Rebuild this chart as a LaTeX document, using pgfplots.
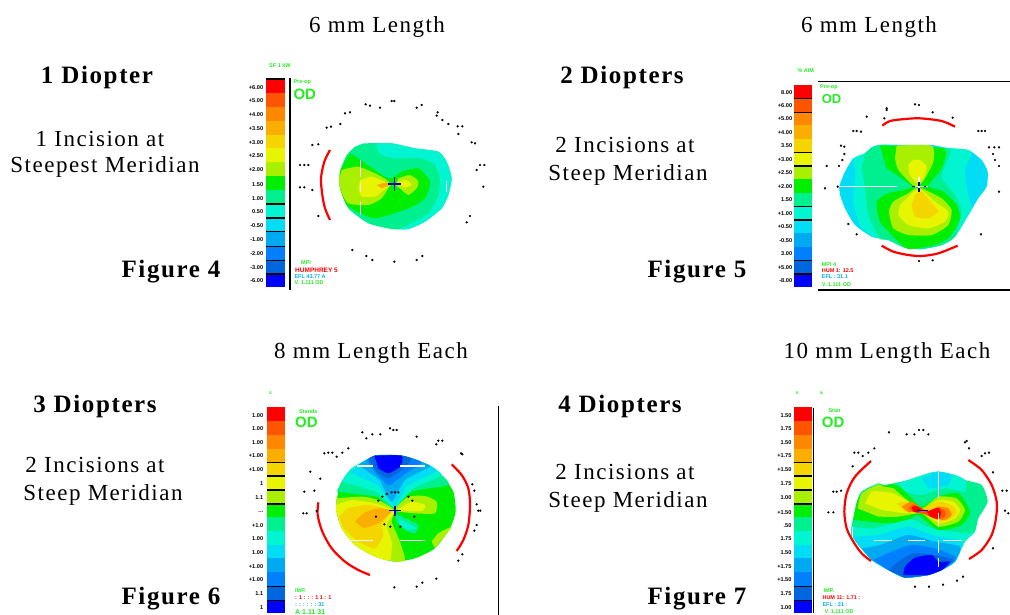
\documentclass[border=0pt]{standalone}
\usepackage{pgfplots}
\pgfplotsset{compat=1.18}
\usepackage{fontspec}
\setmainfont{Liberation Serif}[LetterSpace=6.5]
\setsansfont{Liberation Sans}
\definecolor{c01}{HTML}{FF0000}
\definecolor{c02}{HTML}{FF5500}
\definecolor{c03}{HTML}{FF8800}
\definecolor{c04}{HTML}{FAAE00}
\definecolor{c05}{HTML}{F5D500}
\definecolor{c06}{HTML}{E8F500}
\definecolor{c07}{HTML}{A8F000}
\definecolor{c08}{HTML}{00EE00}
\definecolor{c09}{HTML}{00F090}
\definecolor{c10}{HTML}{00F5D0}
\definecolor{c11}{HTML}{00DDF5}
\definecolor{c12}{HTML}{00AAF0}
\definecolor{c13}{HTML}{0080FF}
\definecolor{c14}{HTML}{0066DD}
\definecolor{c15}{HTML}{0000FF}
\definecolor{lg}{HTML}{22EE22}
\pgfplotsset{mapax/.style={scale only axis,hide axis,y dir=reverse,clip=false,no markers,anchor=north west,xmin=0,ymin=0}}
\newcommand\reg[2]{\addplot[fill=#1,draw=none,smooth,tension=0.35] coordinates {#2} --cycle;}
\newcommand\s[3]{\addplot[fill=#1,draw=none] coordinates {(\xa,#2)(\xb,#2)(\xb,#3)(\xa,#3)} --cycle;}
\newcommand\bl[1]{\addplot[black,line width=1.1pt] coordinates {(\xa,#1)(\xb,#1)};}
\newcommand\arc[1]{\addplot[red,line width=2.2pt,smooth] coordinates {#1};}
\newcommand\wh[1]{\addplot[white,line width=1.4pt] coordinates {#1};}
\newcommand\mdots[1]{\addplot[only marks,mark=square*,mark size=0.9pt,black] coordinates {#1};}
\newcommand\blk[1]{\addplot[black,line width=1.2pt] coordinates {#1};}
\newcommand\blu[1]{\addplot[blue!80!black,line width=1.3pt] coordinates {#1};}
\newcommand\lb[3]{\node[anchor=east,inner sep=0pt,font=\fontsize{5.6}{6}\selectfont\sffamily\bfseries] at (axis cs:#1,#2) {#3};}
\newcommand\txt[5]{\node[anchor=west,inner sep=0pt,text=#1,font=\fontsize{#4}{#4}\selectfont\sffamily\bfseries] at (axis cs:#2,#3) {#5};}
\newcommand\T[3]{\node[inner sep=0pt,yshift=-2pt,font=\fontsize{23}{24}\selectfont] at (#1pt,-#2pt) {#3};}
\newcommand\B[3]{\node[inner sep=0pt,yshift=-2pt,font=\fontsize{25}{26}\selectfont\bfseries] at (#1pt,-#2pt) {#3};}
\begin{document}
\begin{tikzpicture}
\path[use as bounding box] (0pt,0pt) rectangle (1010pt,-614pt);
\T{377}{25}{6 mm Length}
\T{869}{25}{6 mm Length}
\T{371}{351}{8 mm Length Each}
\T{887}{351}{10 mm Length Each}
\B{97}{75}{1 Diopter}
\B{622}{75}{2 Diopters}
\B{95}{404}{3 Diopters}
\B{620}{404}{4 Diopters}
\T{100}{137}{1 Incision at}
\T{105}{165}{Steepest Meridian}
\T{625}{143}{2 Incisions at}
\T{628}{173}{Steep Meridian}
\T{95}{463}{2 Incisions at}
\T{103}{493}{Steep Meridian}
\T{625}{470}{2 Incisions at}
\T{628}{500}{Steep Meridian}
\B{171}{270}{Figure 4}
\B{697}{270}{Figure 5}
\B{171}{597}{Figure 6}
\B{697}{597}{Figure 7}
% ---------- Map 1
\begin{axis}[mapax,at={(235pt,-55pt)},width=265pt,height=240pt,xmax=795,ymax=720]
\def\xa{93}\def\xb{150}
\s{c01}{72}{114}\s{c02}{114}{155}\s{c03}{155}{197}\s{c04}{197}{239}\s{c05}{239}{280}
\s{c06}{280}{322}\s{c07}{322}{364}\s{c08}{364}{405}\s{c09}{405}{447}\s{c10}{447}{489}
\s{c11}{489}{530}\s{c12}{530}{572}\s{c13}{572}{614}\s{c14}{614}{655}\s{c15}{655}{697}
\bl{72}\bl{447}\bl{489}\bl{530}\bl{575}\bl{617}\bl{657}
\blk{(165,68)(165,705)}
\reg{c09}{(385,265)(470,265)(540,280)(610,290)(635,320)(650,370)(640,420)(620,460)(570,500)(520,522)(470,522)(400,505)(340,460)(315,400)(315,350)(335,300)(360,275)}
\reg{c10}{(425,265)(470,265)(540,280)(610,290)(635,320)(650,370)(640,420)(620,460)(570,500)(520,522)(490,522)(520,510)(580,475)(610,420)(615,370)(600,330)(560,310)(480,310)(440,300)(425,280)}
\reg{c08}{(345,295)(370,310)(460,370)(500,350)(550,340)(585,380)(570,430)(520,460)(420,490)(340,455)(315,400)(315,350)(330,320)}
\reg{c07}{(320,345)(370,335)(430,360)(465,385)(440,430)(400,450)(340,445)(318,410)(312,375)}
\reg{c07}{(490,370)(525,360)(550,378)(545,400)(520,420)(495,400)(480,390)}
\reg{c06}{(375,375)(410,365)(450,380)(470,388)(440,410)(420,425)(380,425)(370,400)}
\reg{c06}{(490,380)(515,375)(530,390)(510,397)(490,392)}
\reg{c04}{(425,390)(455,382)(465,390)(440,400)}
\wh{(376,315)(376,365)}\wh{(376,380)(376,410)}\wh{(376,440)(376,480)}\wh{(635,378)(635,412)}
\blu{(458,387)(498,387)}\blu{(478,367)(478,407)}
\arc{(285,285)(268,320)(258,370)(262,420)(270,460)(285,495)}
\mdots{(392,148)(405,152)(435,158)(470,138)(478,138)(545,158)(560,150)(608,172)(605,182)(622,195)(640,207)(668,214)(682,214)(670,237)(710,262)(720,265)(735,330)(748,330)(725,345)(745,395)(232,405)(195,397)(208,397)(195,330)(208,330)(220,330)(232,270)(250,268)(275,218)(288,215)(316,207)(330,175)(345,172)(250,483)(705,483)(695,502)(352,585)(394,603)(412,615)(478,620)(545,615)(562,603)}
\lb{85}{97}{+6.00}\lb{85}{138}{+5.00}\lb{85}{180}{+4.00}\lb{85}{222}{+3.50}\lb{85}{262}{+3.00}
\lb{85}{303}{+2.50}\lb{85}{345}{+2.00}\lb{85}{388}{1.50}\lb{85}{430}{1.00}\lb{85}{470}{0.50}
\lb{85}{512}{-0.50}\lb{85}{553}{-1.00}\lb{85}{595}{-2.00}\lb{85}{637}{-3.00}\lb{85}{678}{-6.00}
\txt{lg}{102}{31}{5.5}{SF 1 kW}
\txt{lg}{175}{81}{5.5}{Pre-op}
\txt{lg}{175}{117}{15}{OD}
\txt{lg}{198}{624}{5.5}{MPI}
\txt{red}{180}{646}{6.5}{HUMPHREY 5}
\txt{cyan}{178}{666}{5.5}{EFL 43.77 A}
\txt{lg}{178}{684}{5.5}{V. 1.111 OD}
\end{axis}
% ---------- Map 2
\begin{axis}[mapax,at={(765pt,-55pt)},width=245pt,height=240pt,xmax=735,ymax=720]
\def\xa{86}\def\xb{140}
\s{c01}{90}{130}\s{c02}{130}{171}\s{c03}{171}{211}\s{c04}{211}{252}\s{c05}{252}{292}
\s{c06}{292}{333}\s{c07}{333}{373}\s{c08}{373}{414}\s{c09}{414}{454}\s{c10}{454}{495}
\s{c11}{495}{535}\s{c12}{535}{576}\s{c13}{576}{616}\s{c14}{616}{657}\s{c15}{657}{697}
\bl{130}\bl{172}\bl{292}\bl{333}\bl{455}\bl{495}\bl{617}\bl{657}
\blk{(158,80)(735,80)}\blk{(158,705)(735,705)}
\reg{c11}{(222,395)(240,350)(265,310)(300,295)(345,270)(400,270)(500,270)(560,282)(610,285)(650,315)(668,350)(665,395)(640,430)(610,480)(570,545)(530,570)(470,582)(420,578)(370,555)(320,545)(270,510)(240,460)(225,420)}
\reg{c10}{(265,310)(300,295)(345,270)(610,285)(600,340)(605,400)(620,460)(610,480)(570,545)(530,570)(470,582)(420,578)(370,555)(320,545)(285,510)(265,440)(272,360)}
\reg{c09}{(300,295)(345,270)(550,282)(540,330)(530,370)(570,420)(590,470)(570,545)(530,570)(470,582)(420,578)(370,555)(345,550)(310,480)(300,400)(290,340)}
\reg{c08}{(345,272)(535,280)(530,340)(490,392)(535,410)(575,450)(585,490)(555,545)(510,570)(430,582)(395,555)(345,500)(335,440)(370,415)(440,395)(365,340)}
\reg{c07}{(395,272)(500,272)(505,320)(480,370)(462,392)(445,392)(400,345)(390,310)}
\reg{c07}{(450,400)(470,400)(530,430)(560,465)(550,510)(500,540)(430,540)(385,520)(372,470)(385,440)(430,415)}
\reg{c06}{(430,330)(445,315)(465,315)(485,335)(480,360)(462,385)(450,380)(432,355)}
\reg{c06}{(445,410)(470,405)(510,440)(550,470)(540,500)(490,520)(430,510)(400,480)(405,450)}
\reg{c05}{(450,420)(470,410)(505,450)(520,470)(490,490)(450,485)(440,450)}
\wh{(222,395)(395,395)}\wh{(462,365)(462,410)}\wh{(440,395)(490,395)}
\blu{(462,380)(462,392)}\blu{(462,400)(462,410)}\blu{(476,395)(484,395)}\blu{(442,395)(450,395)}
\arc{(352,212)(375,198)(420,192)(465,190)(530,198)(570,215)}
\arc{(350,572)(385,590)(430,600)(470,603)(520,595)(578,572)}
\mdots{(365,160)(365,165)(450,148)(462,150)(503,172)(305,185)(358,190)(563,188)(265,228)(275,228)(288,230)(640,228)(650,228)(660,228)(228,272)(238,275)(238,297)(232,315)(222,333)(185,333)(672,277)(688,277)(702,277)(684,297)(690,315)(702,333)(180,400)(218,395)(702,410)(250,507)(275,538)(648,538)(462,618)(503,616)}
\lb{82}{112}{8.00}\lb{82}{151}{+6.00}\lb{82}{192}{+5.00}\lb{82}{232}{+4.00}\lb{82}{273}{3.50}
\lb{82}{313}{+3.00}\lb{82}{354}{+2.50}\lb{82}{394}{+2.00}\lb{82}{434}{1.50}\lb{82}{475}{+1.00}
\lb{82}{515}{+0.50}\lb{82}{556}{-0.50}\lb{82}{597}{3.00}\lb{82}{637}{+5.00}\lb{82}{678}{-8.00}
\txt{lg}{97}{46}{5.5}{\% AIM}
\txt{lg}{165}{98}{5.5}{Pre-op}
\txt{lg}{170}{132}{13}{OD}
\txt{lg}{170}{628}{5.5}{MPI 4}
\txt{red}{170}{648}{5.5}{HUM 1: 12.5}
\txt{cyan}{170}{666}{5.5}{EFL : 31.1}
\txt{lg}{170}{688}{5.5}{V. 1.111 OD}
\end{axis}
% ---------- Map 3
\begin{axis}[mapax,at={(235pt,-385pt)},width=265pt,height=229pt,xmax=795,ymax=687]
\def\xa{97}\def\xb{150}
\s{c01}{67}{108}\s{c02}{108}{149}\s{c03}{149}{191}\s{c04}{191}{232}\s{c05}{232}{273}
\s{c06}{273}{314}\s{c07}{314}{355}\s{c08}{355}{397}\s{c09}{397}{438}\s{c10}{438}{479}
\s{c11}{479}{520}\s{c12}{520}{561}\s{c13}{561}{603}\s{c14}{603}{644}\s{c15}{644}{685}
\bl{232}\bl{273}\bl{315}\bl{357}\bl{605}\bl{647}
\blk{(790,62)(790,690)}
\reg{c08}{(420,212)(500,212)(570,235)(620,270)(655,320)(662,380)(645,430)(600,490)(540,520)(480,530)(420,515)(360,480)(320,430)(303,370)(315,300)(350,250)}
\reg{c09}{(305,320)(340,260)(420,212)(500,212)(570,235)(620,270)(640,300)(530,320)(478,370)(430,335)}
\reg{c10}{(320,290)(350,250)(420,212)(500,212)(570,235)(620,270)(535,310)(478,365)(425,320)}
\reg{c11}{(345,262)(420,212)(500,212)(570,235)(605,258)(520,300)(478,360)(430,300)}
\reg{c12}{(370,240)(420,212)(500,212)(570,235)(585,245)(510,285)(470,350)(435,285)}
\reg{c13}{(395,225)(420,212)(500,212)(560,232)(505,270)(460,300)(415,255)}
\reg{c14}{(400,222)(420,212)(500,212)(530,222)(500,255)(460,280)(425,260)}
\reg{c15}{(418,212)(500,212)(495,245)(460,265)(430,250)}
\reg{c07}{(303,340)(380,335)(430,345)(478,375)(470,410)(495,470)(510,525)(480,530)(420,515)(360,480)(320,430)(303,370)}
\reg{c06}{(303,360)(350,345)(420,355)(478,378)(455,420)(470,470)(465,525)(420,515)(360,480)(320,430)(303,375)}
\reg{c05}{(312,395)(340,370)(400,360)(465,378)(440,420)(445,450)(420,490)(370,470)(325,430)}
\reg{c04}{(360,410)(385,385)(430,370)(470,378)(430,415)(385,430)}
\reg{c07}{(480,370)(520,335)(570,333)(605,350)(600,385)(540,385)(490,380)}
\reg{c06}{(490,372)(530,350)(570,360)(560,378)(500,378)}
\reg{c07}{(590,470)(610,445)(650,425)(640,440)(600,490)}
\reg{c09}{(478,385)(500,395)(550,420)(540,445)(510,435)(485,410)}
\reg{c10}{(490,400)(530,420)(545,430)(520,435)(495,420)}
\wh{(365,243)(415,243)}\wh{(495,243)(570,243)}\wh{(333,467)(413,467)}\wh{(495,467)(570,467)}
\blu{(463,377)(497,377)}\blu{(480,362)(480,392)}
\arc{(250,352)(248,390)(262,440)(290,490)(330,530)(370,555)(405,570)}
\arc{(650,238)(680,270)(700,310)(705,360)(700,420)(685,465)(665,498)}
\mdots{(430,347)(442,335)(455,327)(470,322)(480,322)(490,322)(520,335)(532,347)(538,395)(496,425)(466,425)(448,418)(423,395)(382,142)(394,160)(412,148)(436,148)(465,130)(475,135)(485,135)(545,155)(604,178)(610,167)(622,167)(678,205)(682,208)(268,205)(280,203)(292,203)(305,215)(322,203)(340,190)(226,260)(256,281)(208,320)(238,317)(205,385)(215,385)(245,378)(712,298)(718,317)(725,358)(730,377)(736,377)(725,420)(718,437)(682,508)(670,527)(478,607)(545,605)(562,593)(604,581)}
\lb{85}{92}{1.00}\lb{85}{131}{1.00}\lb{85}{172}{1.00}\lb{85}{213}{+1.00}\lb{85}{254}{+1.00}
\lb{85}{295}{1}\lb{85}{338}{1.1}\lb{85}{382}{...}\lb{85}{423}{+1.0}\lb{85}{462}{1.00}
\lb{85}{503}{1.00}\lb{85}{544}{+1.00}\lb{85}{584}{+1.00}\lb{85}{626}{1.1}\lb{85}{668}{1}
\txt{lg}{102}{25}{5}{s}
\txt{lg}{192}{79}{5.5}{Stands}
\txt{lg}{180}{112}{15}{OD}
\txt{lg}{180}{617}{5.5}{IMP.}
\txt{red}{180}{637}{5.5}{: 1 : : : 1 1 : 1}
\txt{cyan}{180}{658}{5.5}{: : : : : : 31}
\txt{lg}{180}{680}{7}{A 1.11 31}
\end{axis}
% ---------- Map 4
\begin{axis}[mapax,at={(765pt,-385pt)},width=245pt,height=229pt,xmax=735,ymax=687]
\def\xa{86}\def\xb{142}
\s{c01}{67}{108}\s{c02}{108}{149}\s{c03}{149}{191}\s{c04}{191}{232}\s{c05}{232}{273}
\s{c06}{273}{314}\s{c07}{314}{355}\s{c08}{355}{397}\s{c09}{397}{438}\s{c10}{438}{479}
\s{c11}{479}{520}\s{c12}{520}{561}\s{c13}{561}{603}\s{c14}{603}{644}\s{c15}{644}{685}
\bl{232}\bl{273}\bl{315}\bl{357}\bl{605}\bl{647}
\blk{(145,68)(145,685)}
\reg{c09}{(260,420)(285,325)(340,295)(355,300)(385,295)(430,285)(490,265)(520,260)(570,270)(600,285)(650,300)(668,350)(640,400)(630,440)(600,470)(570,530)(530,555)(490,570)(420,578)(370,555)(320,525)(280,480)(258,450)}
\reg{c10}{(400,295)(490,265)(520,260)(570,270)(600,285)(600,320)(540,310)(470,330)(420,320)}
\reg{c11}{(470,280)(520,260)(560,270)(550,300)(490,310)}
\reg{c10}{(258,425)(330,430)(430,400)(500,430)(600,445)(630,440)(600,470)(570,530)(530,555)(490,570)(420,578)(370,555)(320,525)(280,480)(258,450)}
\reg{c11}{(262,455)(340,450)(430,425)(500,450)(590,470)(570,530)(530,555)(490,570)(420,578)(370,555)(320,525)(280,480)}
\reg{c12}{(290,490)(345,480)(430,450)(510,470)(585,485)(570,530)(530,555)(490,570)(420,578)(370,555)(320,525)}
\reg{c13}{(325,525)(380,500)(440,480)(510,490)(570,515)(565,530)(530,555)(490,570)(420,578)(370,555)}
\reg{c14}{(370,555)(400,530)(445,505)(510,510)(565,525)(530,555)(490,570)(420,578)}
\reg{c15}{(415,570)(420,545)(450,518)(500,510)(520,530)(555,530)(530,555)(490,570)}
\reg{c08}{(265,405)(280,340)(340,298)(355,303)(385,298)(410,310)(445,345)(470,365)(520,335)(580,325)(615,380)(590,420)(520,435)(460,390)(440,400)(380,415)(310,410)}
\reg{c07}{(278,370)(290,325)(340,298)(355,305)(385,310)(420,340)(470,370)(520,335)(575,340)(600,375)(580,410)(520,425)(470,385)(400,395)(340,395)}
\reg{c06}{(300,355)(320,320)(350,320)(385,325)(430,350)(475,372)(520,345)(565,350)(585,375)(570,400)(525,415)(475,385)(420,385)(350,375)}
\reg{c05}{(395,355)(430,350)(470,372)(520,350)(560,360)(575,380)(560,400)(525,410)(480,385)(420,380)}
\reg{c03}{(410,365)(440,350)(470,370)(490,378)(520,365)(550,370)(560,390)(540,405)(510,400)(475,382)(430,382)}
\reg{c02}{(430,372)(445,358)(470,370)(490,378)(520,368)(540,378)(540,395)(515,403)(480,388)(450,382)}
\reg{c01}{(440,368)(450,362)(470,372)(460,382)(445,380)}
\reg{c01}{(485,380)(520,368)(528,385)(520,402)(495,395)}
\blu{(455,377)(488,377)}
\wh{(520,262)(520,340)}\wh{(520,385)(520,425)}\wh{(520,465)(520,505)}\wh{(520,520)(520,545)}
\wh{(328,467)(380,467)}\wh{(430,467)(480,467)}\wh{(535,467)(590,467)}\wh{(262,425)(262,460)}
\arc{(318,228)(270,275)(245,325)(238,380)(245,430)(265,470)(290,505)(318,528)}
\arc{(610,225)(650,255)(680,300)(695,350)(693,400)(680,450)(650,495)(612,522)}
\mdots{(372,142)(425,148)(448,148)(462,135)(475,135)(490,148)(600,172)(612,190)(605,168)(650,213)(660,205)(672,203)(268,203)(280,203)(293,213)(310,203)(328,190)(263,244)(684,262)(205,320)(215,320)(228,317)(190,382)(205,382)(712,317)(725,317)(720,377)(730,385)(684,490)(450,605)(492,605)(534,599)(576,587)(594,575)}
\lb{80}{92}{1.50}\lb{80}{131}{1.75}\lb{80}{172}{1.50}\lb{80}{213}{+1.75}\lb{80}{254}{+1.50}
\lb{80}{295}{1.75}\lb{80}{338}{1.00}\lb{80}{382}{+1.50}\lb{80}{423}{.50}\lb{80}{462}{1.75}
\lb{80}{503}{1.50}\lb{80}{544}{+1.75}\lb{80}{584}{+1.50}\lb{80}{626}{1.75}\lb{80}{668}{1.00}
\txt{lg}{92}{25}{5}{s}\txt{lg}{165}{25}{5}{a}
\txt{lg}{190}{78}{5.5}{Stan}
\txt{lg}{170}{112}{15}{OD}
\txt{lg}{175}{617}{5.5}{IMP.}
\txt{red}{172}{637}{5.5}{HUM 11: 1.71 :}
\txt{cyan}{172}{658}{5.5}{EFL : 31 :}
\txt{lg}{178}{680}{5.5}{V. 1.111 OD}
\end{axis}
\end{tikzpicture}
\end{document}
